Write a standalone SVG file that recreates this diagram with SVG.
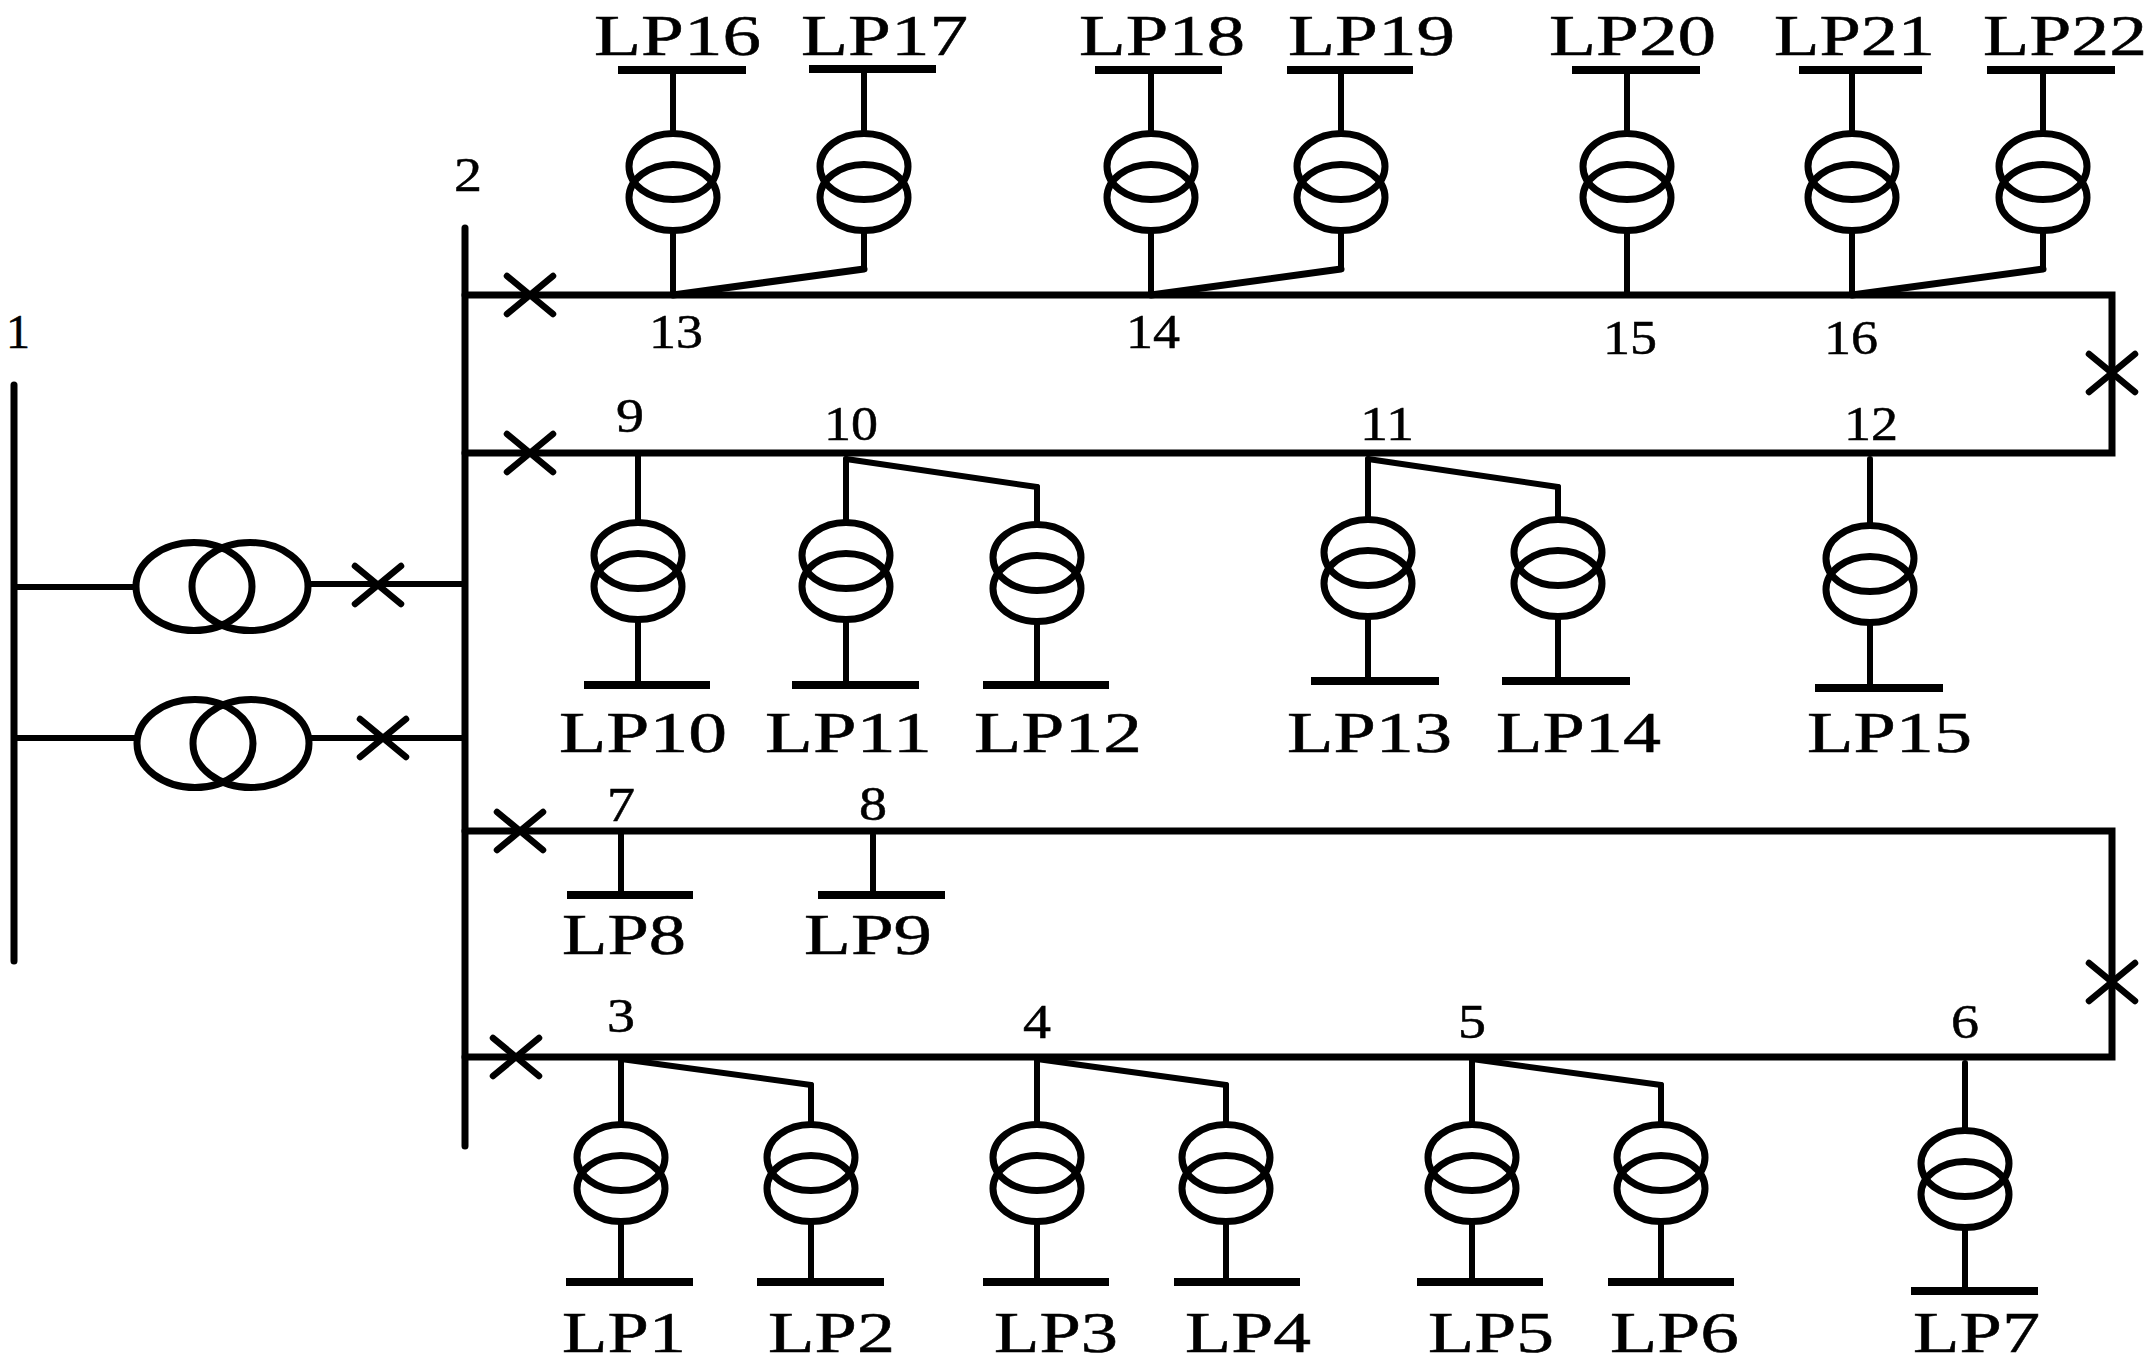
<svg xmlns="http://www.w3.org/2000/svg" width="2153" height="1366" viewBox="0 0 2153 1366">
<style>
text{font-family:"Liberation Serif","Times New Roman",serif;fill:#000;stroke:#000;stroke-width:.5}
.lp{font-size:58px}
.n{font-size:48px}
.w{fill:none;stroke:#000;stroke-width:6;stroke-linecap:round}
.b{fill:none;stroke:#000;stroke-width:7;stroke-linecap:round}
.bar{fill:none;stroke:#000;stroke-width:8;stroke-linecap:butt}
.e{fill:none;stroke:#000;stroke-width:7}
.x{fill:none;stroke:#000;stroke-width:6.500;stroke-linecap:round}
</style>
<defs>
<g id="tf"><ellipse class="e" cx="0" cy="-15.500" rx="44" ry="33"/><ellipse class="e" cx="0" cy="15.500" rx="44" ry="33"/></g>
<g id="mt"><ellipse class="e" cx="-28" cy="0" rx="58" ry="44"/><ellipse class="e" cx="28" cy="0" rx="58" ry="44"/></g>
<path id="brk" class="x" d="M-23-19L23 19M-23 19L23-19"/>
</defs>
<g id="connectors">
<path class="b" d="M465 295H2112V453H465M465 831H2112V1057H465"/>
<path class="w" d="M14 587H133M311 584H465M14 738H135M311 738H465"/>
<path class="w" d="M673 130V70M673 234V295M864 130V69M864 232V269M1151 130V70M1151 234V295M1341 130V70M1341 232V269M1627 130V70M1627 234V295M1852 130V70M1852 234V295M2043 130V70M2043 232V269"/>
<path class="b" d="M673 295L864 269M1151 295L1341 269M1852 295L2043 269"/>
<path class="w" d="M638 453V520M638 622V685M846 459V520M846 622V685M1037 487V522M1037 622V685M1368 459V517M1368 619V681M1558 487V517M1558 619V681M1870 459V523M1870 625V688"/>
<path class="w" d="M846 459L1037 487M1368 459L1558 487"/>
<path class="w" d="M621 831V895M873 835V895"/>
<path class="w" d="M621 1057V1123M621 1225V1282M811 1085V1123M811 1225V1282M1037 1057V1123M1037 1225V1282M1226 1085V1123M1226 1225V1282M1472 1057V1123M1472 1225V1282M1661 1085V1123M1661 1225V1282M1965 1063V1129M1965 1231V1291"/>
<path class="w" d="M621 1059L811 1085M1037 1059L1226 1085M1472 1059L1661 1085"/>
</g>
<g id="bus1"><path class="b" d="M14 385V961"/><text class="n" x="6" y="348" textLength="24" lengthAdjust="spacingAndGlyphs">1</text></g>
<g id="bus2"><path class="b" d="M465 228V1146"/><text class="n" x="454" y="191" textLength="28" lengthAdjust="spacingAndGlyphs">2</text></g>
<g id="breakers">
<use href="#brk" x="530" y="295"/><use href="#brk" x="530" y="453"/><use href="#brk" x="2112" y="373"/>
<use href="#brk" x="520" y="831"/><use href="#brk" x="516" y="1057"/><use href="#brk" x="2112" y="982"/>
<use href="#brk" x="378" y="585"/><use href="#brk" x="383" y="738"/>
</g>
<g id="t1"><use href="#mt" x="222" y="586.500"/></g>
<g id="t2"><use href="#mt" x="223" y="743.500"/></g>
<g id="nodes-labels">
<text class="n" x="649" y="348" textLength="54" lengthAdjust="spacingAndGlyphs">13</text>
<text class="n" x="1126" y="348" textLength="54" lengthAdjust="spacingAndGlyphs">14</text>
<text class="n" x="1603" y="354" textLength="54" lengthAdjust="spacingAndGlyphs">15</text>
<text class="n" x="1824" y="354" textLength="54" lengthAdjust="spacingAndGlyphs">16</text>
<text class="n" x="616" y="432" textLength="28" lengthAdjust="spacingAndGlyphs">9</text>
<text class="n" x="824" y="440" textLength="54" lengthAdjust="spacingAndGlyphs">10</text>
<text class="n" x="1360" y="440" textLength="54" lengthAdjust="spacingAndGlyphs">11</text>
<text class="n" x="1844" y="440" textLength="54" lengthAdjust="spacingAndGlyphs">12</text>
<text class="n" x="607" y="821" textLength="28" lengthAdjust="spacingAndGlyphs">7</text>
<text class="n" x="859" y="820" textLength="28" lengthAdjust="spacingAndGlyphs">8</text>
<text class="n" x="607" y="1032" textLength="28" lengthAdjust="spacingAndGlyphs">3</text>
<text class="n" x="1023" y="1038" textLength="28" lengthAdjust="spacingAndGlyphs">4</text>
<text class="n" x="1458" y="1038" textLength="28" lengthAdjust="spacingAndGlyphs">5</text>
<text class="n" x="1951" y="1038" textLength="28" lengthAdjust="spacingAndGlyphs">6</text>
</g>
<g id="LP1"><use href="#tf" x="621" y="1173"/><path class="bar" d="M566 1282H693"/><text class="lp" x="562" y="1352" textLength="124" lengthAdjust="spacingAndGlyphs">LP1</text></g>
<g id="LP2"><use href="#tf" x="811" y="1173"/><path class="bar" d="M757 1282H884"/><text class="lp" x="768" y="1352" textLength="127" lengthAdjust="spacingAndGlyphs">LP2</text></g>
<g id="LP3"><use href="#tf" x="1037" y="1173"/><path class="bar" d="M983 1282H1109"/><text class="lp" x="994" y="1352" textLength="124" lengthAdjust="spacingAndGlyphs">LP3</text></g>
<g id="LP4"><use href="#tf" x="1226" y="1173"/><path class="bar" d="M1174 1282H1300"/><text class="lp" x="1185" y="1352" textLength="126" lengthAdjust="spacingAndGlyphs">LP4</text></g>
<g id="LP5"><use href="#tf" x="1472" y="1173"/><path class="bar" d="M1417 1282H1543"/><text class="lp" x="1428" y="1352" textLength="126" lengthAdjust="spacingAndGlyphs">LP5</text></g>
<g id="LP6"><use href="#tf" x="1661" y="1173"/><path class="bar" d="M1608 1282H1734"/><text class="lp" x="1610" y="1352" textLength="129" lengthAdjust="spacingAndGlyphs">LP6</text></g>
<g id="LP7"><use href="#tf" x="1965" y="1179"/><path class="bar" d="M1911 1291H2038"/><text class="lp" x="1913" y="1352" textLength="127" lengthAdjust="spacingAndGlyphs">LP7</text></g>
<g id="LP8"><path class="bar" d="M567 895H693"/><text class="lp" x="562" y="954" textLength="124" lengthAdjust="spacingAndGlyphs">LP8</text></g>
<g id="LP9"><path class="bar" d="M818 895H945"/><text class="lp" x="804" y="954" textLength="128" lengthAdjust="spacingAndGlyphs">LP9</text></g>
<g id="LP10"><use href="#tf" x="638" y="571"/><path class="bar" d="M584 685H710"/><text class="lp" x="559" y="752" textLength="168" lengthAdjust="spacingAndGlyphs">LP10</text></g>
<g id="LP11"><use href="#tf" x="846" y="571"/><path class="bar" d="M792 685H919"/><text class="lp" x="765" y="752" textLength="167" lengthAdjust="spacingAndGlyphs">LP11</text></g>
<g id="LP12"><use href="#tf" x="1037" y="573"/><path class="bar" d="M983 685H1109"/><text class="lp" x="974" y="752" textLength="168" lengthAdjust="spacingAndGlyphs">LP12</text></g>
<g id="LP13"><use href="#tf" x="1368" y="568"/><path class="bar" d="M1311 681H1439"/><text class="lp" x="1287" y="752" textLength="165" lengthAdjust="spacingAndGlyphs">LP13</text></g>
<g id="LP14"><use href="#tf" x="1558" y="568"/><path class="bar" d="M1502 681H1630"/><text class="lp" x="1496" y="752" textLength="165" lengthAdjust="spacingAndGlyphs">LP14</text></g>
<g id="LP15"><use href="#tf" x="1870" y="574"/><path class="bar" d="M1815 688H1943"/><text class="lp" x="1807" y="752" textLength="165" lengthAdjust="spacingAndGlyphs">LP15</text></g>
<g id="LP16"><use href="#tf" x="673" y="182"/><path class="bar" d="M618 70H746"/><text class="lp" x="594" y="55" textLength="167" lengthAdjust="spacingAndGlyphs">LP16</text></g>
<g id="LP17"><use href="#tf" x="864" y="182"/><path class="bar" d="M809 69H936"/><text class="lp" x="801" y="55" textLength="167" lengthAdjust="spacingAndGlyphs">LP17</text></g>
<g id="LP18"><use href="#tf" x="1151" y="182"/><path class="bar" d="M1095 70H1222"/><text class="lp" x="1079" y="55" textLength="166" lengthAdjust="spacingAndGlyphs">LP18</text></g>
<g id="LP19"><use href="#tf" x="1341" y="182"/><path class="bar" d="M1287 70H1413"/><text class="lp" x="1288" y="55" textLength="167" lengthAdjust="spacingAndGlyphs">LP19</text></g>
<g id="LP20"><use href="#tf" x="1627" y="182"/><path class="bar" d="M1572 70H1700"/><text class="lp" x="1549" y="55" textLength="167" lengthAdjust="spacingAndGlyphs">LP20</text></g>
<g id="LP21"><use href="#tf" x="1852" y="182"/><path class="bar" d="M1799 70H1922"/><text class="lp" x="1774" y="55" textLength="161" lengthAdjust="spacingAndGlyphs">LP21</text></g>
<g id="LP22"><use href="#tf" x="2043" y="182"/><path class="bar" d="M1987 70H2115"/><text class="lp" x="1983" y="55" textLength="164" lengthAdjust="spacingAndGlyphs">LP22</text></g>
</svg>
